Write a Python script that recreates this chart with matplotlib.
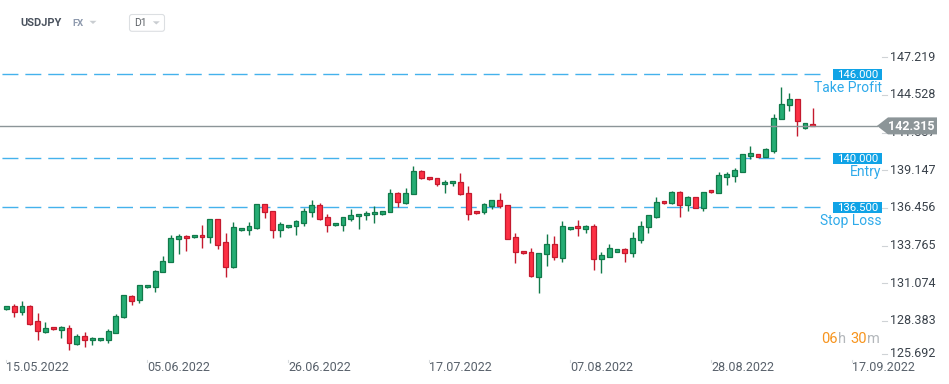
import numpy as np
import pandas as pd
import matplotlib
matplotlib.use('Agg')
import matplotlib.pyplot as plt
import matplotlib.transforms as mtransforms
from matplotlib.patches import Polygon, FancyBboxPatch
from matplotlib.offsetbox import TextArea, HPacker, AnnotationBbox, DrawingArea

plt.rcParams['font.family'] = ['Roboto', 'DejaVu Sans']

# ---------------- data ----------------
symbol = 'USDJPY'
market = 'FX'
interval = 'D1'
first_day = '2022-05-15'

opens = [129.21, 129.43, 129.04, 129.43, 128.36, 127.61, 127.93, 127.76, 127.86, 126.76,
         127.29, 127.00, 127.00, 127.04, 127.54, 128.64, 130.14, 129.86, 130.79, 130.83,
         131.86, 132.57, 134.21, 134.43, 134.36, 134.50, 134.40, 135.64, 134.00, 132.26,
         134.86, 134.90, 135.04, 136.71, 136.21, 134.90, 135.07, 135.14, 135.40, 136.14,
         136.64, 135.79, 135.21, 135.26, 135.69, 135.86, 135.93, 136.00, 136.00, 136.14,
         137.50, 136.81, 137.43, 139.07, 138.64, 138.57, 138.14, 138.21, 138.29, 137.50,
         136.21, 136.14, 136.61, 137.00, 136.64, 134.36, 133.36, 133.29, 131.54, 133.14,
         133.86, 132.90, 134.93, 135.14, 134.97, 135.16, 132.83, 132.97, 133.33, 133.50,
         133.26, 134.19, 135.07, 135.83, 136.93, 136.83, 137.57, 136.69, 137.21, 136.43,
         137.71, 137.54, 138.69, 138.76, 139.04, 140.19, 140.29, 140.11, 140.54, 142.79,
         143.79, 144.21, 142.14, 142.45]
highs = [129.45, 129.59, 129.81, 129.52, 128.95, 128.31, 127.95, 128.02, 128.07, 127.43,
         127.57, 127.26, 127.16, 127.79, 128.85, 130.24, 130.21, 130.93, 130.95, 132.00,
         133.00, 134.50, 134.57, 134.50, 134.52, 135.24, 135.64, 135.66, 134.66, 135.45,
         135.02, 135.45, 136.71, 136.73, 136.23, 135.45, 135.23, 135.57, 136.43, 137.00,
         136.79, 136.00, 135.38, 135.79, 136.36, 136.00, 136.21, 136.57, 136.23, 137.79,
         137.57, 137.86, 139.45, 139.14, 138.66, 138.59, 138.43, 138.38, 138.93, 138.00,
         136.23, 136.79, 137.00, 137.50, 136.66, 134.64, 133.38, 133.57, 133.21, 134.59,
         134.45, 135.50, 135.09, 135.57, 135.26, 135.31, 133.31, 133.88, 133.52, 133.59,
         134.71, 135.52, 135.93, 137.24, 136.95, 137.66, 137.64, 137.31, 137.23, 137.57,
         137.73, 139.00, 139.00, 139.29, 140.29, 140.88, 140.31, 140.71, 143.14, 145.09,
         144.64, 144.23, 142.52, 143.57]
lows = [129.19, 128.69, 128.83, 128.07, 127.04, 127.54, 127.77, 127.19, 126.33, 126.69,
        126.54, 126.69, 126.98, 126.83, 127.54, 128.60, 129.54, 129.69, 130.77, 130.47,
        131.86, 132.57, 133.19, 133.40, 134.34, 133.61, 133.93, 133.54, 131.54, 132.19,
        134.84, 134.54, 134.97, 135.76, 134.33, 134.40, 135.05, 134.54, 135.19, 135.83,
        135.59, 134.76, 135.19, 134.83, 135.54, 134.97, 135.61, 135.40, 135.98, 136.14,
        136.54, 136.76, 137.43, 138.50, 138.48, 138.00, 137.50, 138.00, 137.36, 135.61,
        136.05, 136.00, 136.36, 136.43, 134.24, 132.54, 133.19, 131.54, 130.40, 132.33,
        132.76, 132.57, 134.86, 134.43, 134.69, 132.02, 131.79, 132.93, 133.31, 132.59,
        132.97, 133.97, 134.69, 135.74, 136.77, 136.74, 135.83, 136.26, 136.45, 136.26,
        137.55, 137.54, 138.12, 138.33, 139.04, 139.97, 140.09, 140.11, 140.36, 142.79,
        143.40, 141.61, 142.12, 142.30]
closes = [129.43, 129.04, 129.43, 128.19, 127.69, 127.86, 127.79, 127.93, 126.79, 127.29,
          127.04, 127.14, 127.14, 127.64, 128.71, 130.21, 129.83, 130.93, 130.93, 131.93,
          132.64, 134.29, 134.43, 134.29, 134.50, 134.36, 135.64, 133.83, 132.26, 135.07,
          135.00, 135.14, 136.71, 136.14, 134.90, 135.29, 135.21, 135.50, 136.21, 136.64,
          135.69, 135.26, 135.36, 135.79, 135.93, 136.00, 136.07, 136.14, 136.21, 137.50,
          136.86, 137.50, 139.07, 138.57, 138.50, 138.14, 138.29, 138.36, 137.43, 136.00,
          136.07, 136.71, 137.00, 136.57, 134.26, 133.33, 133.21, 131.61, 133.21, 133.86,
          132.93, 135.14, 135.07, 135.00, 135.16, 132.83, 133.07, 133.59, 133.50, 133.26,
          134.29, 135.16, 135.93, 136.86, 136.79, 137.57, 136.69, 137.21, 136.47, 137.57,
          137.57, 138.79, 138.86, 139.14, 140.29, 140.36, 140.11, 140.64, 142.86, 143.86,
          144.21, 142.69, 142.50, 142.315]

date_labels = ['15.05.2022', '05.06.2022', '26.06.2022', '17.07.2022',
               '07.08.2022', '28.08.2022', '17.09.2022']
price_ticks = [125.692, 128.383, 131.074, 133.765, 136.456, 139.147, 141.837, 144.528, 147.219]
level_values = [146.0, 140.0, 136.5]
level_names = ['Take Profit', 'Entry', 'Stop Loss']
last_price = 142.315
countdown_hours = '06'
countdown_minutes = '30'

# ---------------- styling ----------------
W, H = 949, 384
AX_L, AX_R, AX_T, AX_B = 0, 880, 40, 358.6
GREEN_FC, GREEN_EC = '#25ad74', '#117a4a'
RED_FC, RED_EC = '#fd3044', '#c41a2e'
LEVEL_BLUE = '#44b2ec'
BOX_BLUE = '#10a3e6'
LABEL_BLUE = '#2eaaea'
PRICE_GREY = '#8c9598'
TEXT_DARK = '#3a424b'

fig = plt.figure(figsize=(W / 100, H / 100), dpi=100)
fig.patch.set_facecolor('white')
ax = fig.add_axes([AX_L / W, 1 - AX_B / H, (AX_R - AX_L) / W, (AX_B - AX_T) / H])
ax.set_facecolor('white')
for s in ax.spines.values():
    s.set_visible(False)
ax.set_xticks([])
ax.set_yticks([])

n = len(opens)
o = np.array(opens); h = np.array(highs); l = np.array(lows); c = np.array(closes)
x = np.arange(n)
up = c >= o
fcs = np.where(up, GREEN_FC, RED_FC)
ecs = np.where(up, GREEN_EC, RED_EC)

ax.set_xlim(-0.805, 111.58)
ax.set_ylim(125.693, 148.45)

# wicks and bodies
ax.vlines(x, l, h, colors=ecs, linewidth=1.0, zorder=2)
body_h = np.maximum(np.abs(c - o), 0.1)
ax.bar(x, body_h, bottom=np.minimum(o, c), width=0.62, color=fcs,
       edgecolor=ecs, linewidth=0.9, zorder=3)

ytr = ax.get_yaxis_transform()
xtr = ax.get_xaxis_transform()


def anchored(xfrac, yval):
    return fig.dpi_scale_trans + mtransforms.ScaledTranslation(xfrac, yval, ytr)


# level lines with boxes and names
line_end = 826 / 880
for val, name in zip(level_values, level_names):
    ax.axhline(val, xmin=0, xmax=line_end, color=LEVEL_BLUE, linewidth=1.0,
               linestyle=(15.1, (11.5, 5.0)), zorder=1)
    tr = anchored(833 / 880, val)
    box = Polygon(np.array([(0, -5.5), (49, -5.5), (49, 5.5), (0, 5.5)]) / 100,
                  closed=True, transform=tr, facecolor=BOX_BLUE, edgecolor='none',
                  clip_on=False, zorder=8)
    ax.add_patch(box)
    ax.text(0.245, -0.002, f'{val:.3f}', transform=tr, ha='center', va='center',
            color='white', fontsize=8.2, zorder=9, clip_on=False)
    ax.text(0.485, -0.14, name, transform=tr, ha='right', va='center',
            color=LABEL_BLUE, fontsize=10, zorder=9, clip_on=False)

# last price line
ax.axhline(last_price, xmin=0, xmax=877 / 880, color=PRICE_GREY, linewidth=1.0, zorder=4)

# price axis labels
for i, v in enumerate(price_ticks):
    dy = 5 / 100 if i == 0 else 0
    tr = ytr + mtransforms.ScaledTranslation(0, dy, fig.dpi_scale_trans)
    ax.text(890 / 880, v, f'{v:.3f}', transform=tr, ha='left', va='center',
            fontsize=9, color=TEXT_DARK, clip_on=False, zorder=5)
    ax.plot([882 / 880, 887 / 880], [v, v], transform=tr, color='#cfd3d6',
            linewidth=0.8, clip_on=False, zorder=5)

# last price tag
tr = anchored(877 / 880, last_price)
tag = Polygon(np.array([(0, 0), (11, 8.5), (60, 8.5), (60, -8.5), (11, -8.5)]) / 100,
              closed=True, transform=tr, facecolor=PRICE_GREY, edgecolor='none',
              clip_on=False, zorder=10)
ax.add_patch(tag)
ax.text(0.345, -0.003, f'{last_price:.3f}', transform=tr, ha='center', va='center',
        color='white', fontsize=9, fontweight='bold', zorder=11, clip_on=False)

# date axis
days = pd.bdate_range(first_day, periods=n + 20, freq='C',
                      weekmask='Sun Mon Tue Wed Thu Fri')
for lab in date_labels:
    d = pd.to_datetime(lab, format='%d.%m.%Y')
    pos = days.searchsorted(d)
    ax.text(pos, -0.027, lab, transform=xtr, ha='left', va='center',
            fontsize=9, color='#58616b', clip_on=False)
    ax.plot([pos, pos], [-0.003, -0.012], transform=xtr, color='#d8dbde',
            linewidth=0.8, clip_on=False)

# countdown
ORANGE = '#f7941d'
CD_GREY = '#b3b7bb'
tp = dict(fontsize=10.5)
parts = [TextArea(countdown_hours, textprops=dict(color=ORANGE, **tp)),
         TextArea('h', textprops=dict(color=CD_GREY, **tp)),
         DrawingArea(3.5, 1),
         TextArea(countdown_minutes, textprops=dict(color=ORANGE, **tp)),
         TextArea('m', textprops=dict(color=CD_GREY, **tp))]
packer = HPacker(children=parts, align='baseline', pad=0, sep=0)
ab = AnnotationBbox(packer, (880 / W, 1 - 339 / H), xycoords='figure fraction',
                    box_alignment=(1, 0.5), frameon=False, pad=0)
fig.add_artist(ab)

# header
pix = mtransforms.Affine2D().scale(1 / W, -1 / H).translate(0, 1) + fig.transFigure
fig.text(20.5, 23.3, symbol, transform=pix, ha='left', va='center',
         fontsize=7.9, fontweight='bold', color='#4a525e')
fig.text(72.5, 24, market, transform=pix, ha='left', va='center',
         fontsize=6.8, fontweight='bold', color='#8d99ad')
fig.add_artist(Polygon([(89.5, 20.8), (96.5, 20.8), (93, 24)], closed=True,
                       transform=pix, facecolor='#c9cdd1', edgecolor='none'))
fig.add_artist(FancyBboxPatch((129.5, 14.5), 35, 16.8,
                              boxstyle='round,pad=0,rounding_size=2.5',
                              transform=pix, facecolor='white',
                              edgecolor='#dcdfe2', linewidth=0.8))
fig.text(134.3, 23.3, interval, transform=pix, ha='left', va='center',
         fontsize=7.5, color='#5e6368')
fig.add_artist(Polygon([(152.8, 21.3), (159.8, 21.3), (156.3, 24.5)], closed=True,
                       transform=pix, facecolor='#c9cdd1', edgecolor='none'))

fig.savefig('out.png', dpi=100, facecolor='white')
